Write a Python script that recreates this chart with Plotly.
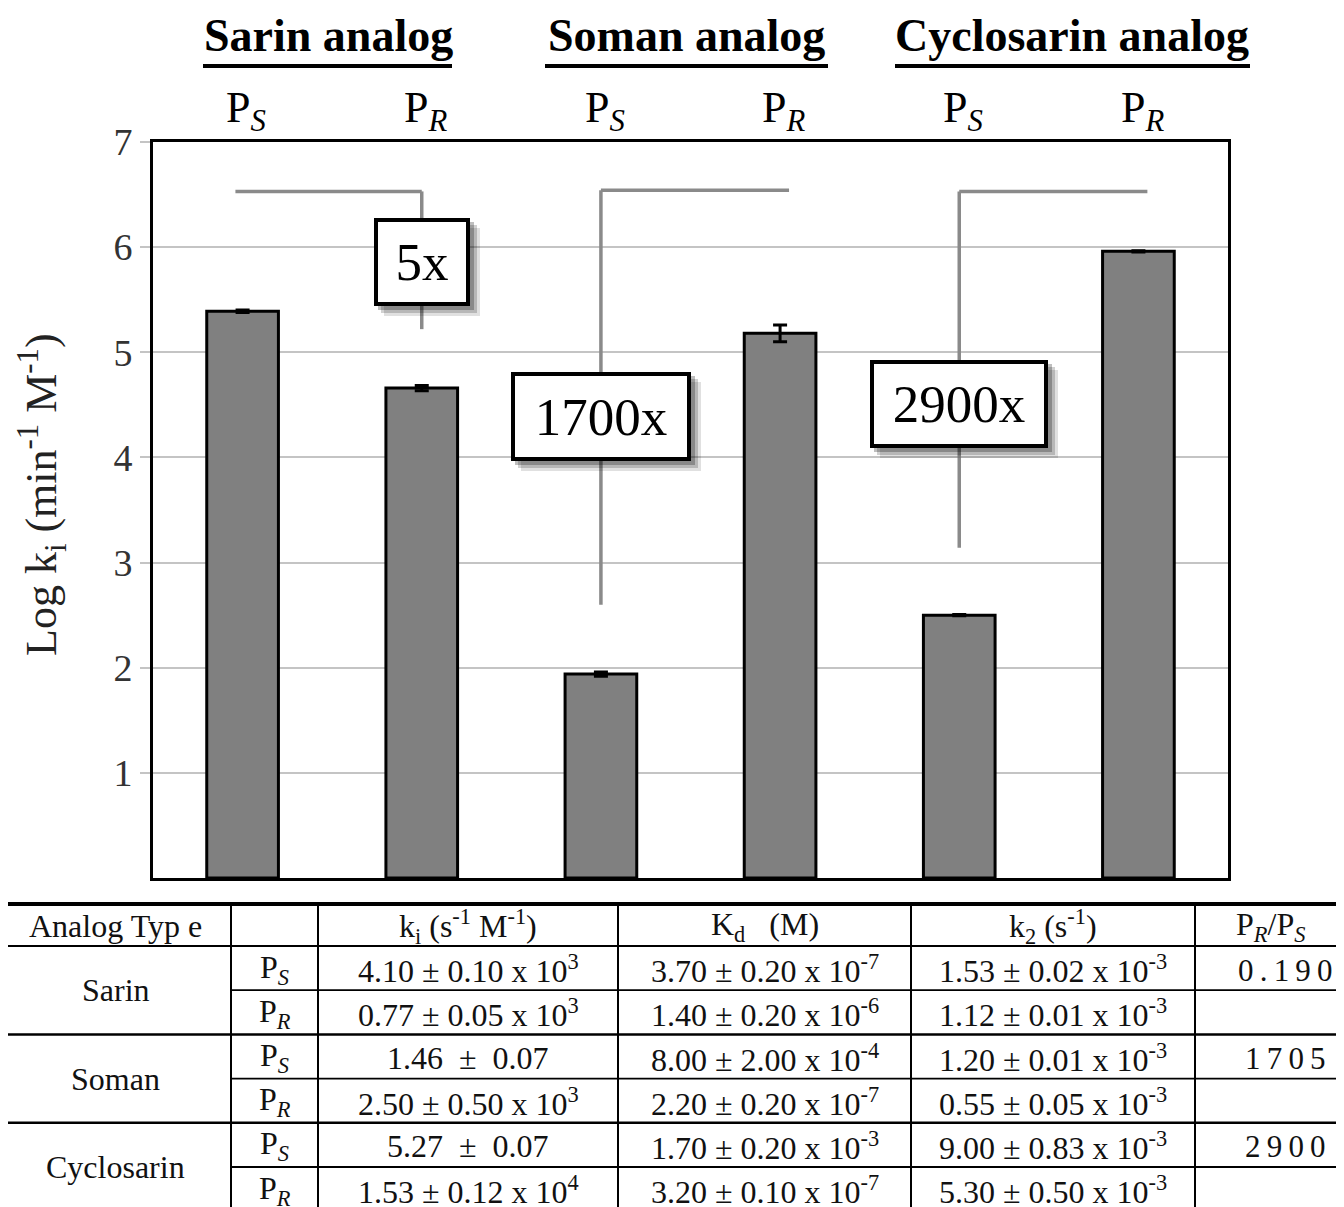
import plotly.graph_objects as go

# ---------------- data ----------------
bar_labels = ["Sarin P_S", "Sarin P_R", "Soman P_S", "Soman P_R", "Cyclosarin P_S", "Cyclosarin P_R"]
log_ki = [5.39, 4.66, 1.94, 5.18, 2.50, 5.96]
log_ki_err = [0.012, 0.025, 0.02, 0.08, 0.006, 0.006]
isomer_labels = ["P<sub><i>S</i></sub>", "P<sub><i>R</i></sub>"] * 3
analog_titles = ["Sarin analog", "Soman analog", "Cyclosarin analog"]
fold_labels = ["5x", "1700x", "2900x"]
fold_label_y = [5.86, 4.39, 4.51]
bracket_top = [6.53, 6.54, 6.53]
bracket_bottom = [5.22, 2.60, 3.14]
y_ticks = [1, 2, 3, 4, 5, 6, 7]

table_header = ["Analog Typ e", "", "k<sub>i</sub> (s<sup>-1</sup> M<sup>-1</sup>)",
                "K<sub>d</sub>\u00a0\u00a0 (M)", "k<sub>2</sub> (s<sup>-1</sup>)",
                "P<sub><i>R</i></sub>/P<sub><i>S</i></sub>"]
table_analogs = ["Sarin", "Soman", "Cyclosarin"]
table_isomers = ["P<sub><i>S</i></sub>", "P<sub><i>R</i></sub>"] * 3
ki_values = ["4.10 ± 0.10 x 10<sup>3</sup>", "0.77 ± 0.05 x 10<sup>3</sup>",
             "1.46 \u00a0±\u00a0 0.07", "2.50 ± 0.50 x 10<sup>3</sup>",
             "5.27 \u00a0±\u00a0 0.07", "1.53 ± 0.12 x 10<sup>4</sup>"]
kd_values = ["3.70 ± 0.20 x 10<sup>-7</sup>", "1.40 ± 0.20 x 10<sup>-6</sup>",
             "8.00 ± 2.00 x 10<sup>-4</sup>", "2.20 ± 0.20 x 10<sup>-7</sup>",
             "1.70 ± 0.20 x 10<sup>-3</sup>", "3.20 ± 0.10 x 10<sup>-7</sup>"]
k2_values = ["1.53 ± 0.02 x 10<sup>-3</sup>", "1.12 ± 0.01 x 10<sup>-3</sup>",
             "1.20 ± 0.01 x 10<sup>-3</sup>", "0.55 ± 0.05 x 10<sup>-3</sup>",
             "9.00 ± 0.83 x 10<sup>-3</sup>", "5.30 ± 0.50 x 10<sup>-3</sup>"]
ratio_values = ["0.190", "1705", "2900"]

# ---------------- layout geometry (screen pixels) ----------------
PL, PR, PT, PB = 153, 1228, 142, 878   # plot area in screen px
OFF = 8                                  # body margin of the html page
W, H = 1328, 1199
SERIF = "Liberation Serif, Times New Roman, serif"

def px(X):
    return (X - PL) / (PR - PL)

def py(Y):
    return (PB - Y) / (PB - PT)

xs = list(range(len(log_ki)))

fig = go.Figure()
fig.add_trace(go.Bar(
    x=xs, y=log_ki, width=0.4,
    marker=dict(color="#808080", line=dict(color="black", width=3)),
    error_y=dict(type="data", array=log_ki_err, visible=True,
                 color="black", thickness=3, width=7),
    hoverinfo="skip", showlegend=False,
))

shapes = []
annotations = []

# brackets and fold boxes
for g in range(3):
    a, b = 2 * g, 2 * g + 1
    drop = a if log_ki[a] < log_ki[b] else b
    other = b if drop == a else a
    ext = -0.04 if other < drop else 0.05
    shapes.append(dict(type="line", xref="x", yref="y", x0=drop, x1=other + ext,
                       y0=bracket_top[g], y1=bracket_top[g],
                       line=dict(color="#8a8a8a", width=3.5)))
    shapes.append(dict(type="line", xref="x", yref="y", x0=drop, x1=drop,
                       y0=bracket_top[g], y1=bracket_bottom[g],
                       line=dict(color="#8a8a8a", width=3.5)))

box_w = [96, 180, 178]
box_h = [88, 89, 88]
for g in range(3):
    a, b = 2 * g, 2 * g + 1
    drop = a if log_ki[a] < log_ki[b] else b
    for sh, alpha in [(10, 0.12), (7, 0.18), (4, 0.25)]:
        annotations.append(dict(
            x=drop, y=fold_label_y[g], xref="x", yref="y", text="\u00a0",
            showarrow=False, font=dict(family=SERIF, size=54, color="rgba(0,0,0,0)"),
            width=box_w[g], height=box_h[g], bgcolor=f"rgba(0,0,0,{alpha})",
            borderwidth=0, borderpad=0, xshift=sh, yshift=-sh))
for g in range(3):
    a, b = 2 * g, 2 * g + 1
    drop = a if log_ki[a] < log_ki[b] else b
    annotations.append(dict(
        x=drop, y=fold_label_y[g], xref="x", yref="y", text=fold_labels[g],
        showarrow=False, font=dict(family=SERIF, size=53, color="black"),
        width=box_w[g] - 8, height=box_h[g] - 8, bgcolor="white",
        bordercolor="black", borderwidth=4, borderpad=0))

# top headers
title_centers = [328, 686, 1072]
title_lines = [(203, 452), (545, 828), (895, 1250)]
for g in range(3):
    annotations.append(dict(
        x=px(title_centers[g]), y=py(36), xref="paper", yref="paper",
        text=f"<b>{analog_titles[g]}</b>", showarrow=False,
        xanchor="center", yanchor="middle",
        font=dict(family=SERIF, size=46, color="black")))
    shapes.append(dict(type="line", xref="paper", yref="paper",
                       x0=px(title_lines[g][0]), x1=px(title_lines[g][1]),
                       y0=py(66), y1=py(66), line=dict(color="black", width=4)))
for i, lab in enumerate(isomer_labels):
    annotations.append(dict(
        x=i + 0.02, y=py(111), xref="x", yref="paper", text=lab, showarrow=False,
        xanchor="center", yanchor="middle",
        font=dict(family=SERIF, size=44, color="black")))

# y-axis title
annotations.append(dict(
    x=px(42), y=py(495), xref="paper", yref="paper",
    text="Log k<sub>i</sub> (min<sup>-1</sup> M<sup>-1</sup>)", textangle=-90,
    showarrow=False, xanchor="center", yanchor="middle",
    font=dict(family=SERIF, size=44, color="#222")))

# ---------------- table ----------------
col_edges = [0, 231, 318, 618, 911, 1195, 1344]
col_centers = [(col_edges[i] + col_edges[i + 1]) / 2 for i in range(6)]
col_centers[5] = 1285
row_top = 904
header_bottom = 946
row_h = 44.2
TFONT = dict(family=SERIF, size=32, color="#111")

shapes.append(dict(type="line", xref="paper", yref="paper", x0=px(0), x1=px(1344),
                   y0=py(row_top), y1=py(row_top), line=dict(color="black", width=4)))
shapes.append(dict(type="line", xref="paper", yref="paper", x0=px(0), x1=px(1344),
                   y0=py(header_bottom), y1=py(header_bottom), line=dict(color="black", width=2)))
for r in range(1, 6):
    Y = header_bottom + r * row_h
    x0 = 0 if r % 2 == 0 else 231
    shapes.append(dict(type="line", xref="paper", yref="paper", x0=px(x0), x1=px(1344),
                       y0=py(Y), y1=py(Y),
                       line=dict(color="black", width=2.5 if r % 2 == 0 else 1.8)))
for X in col_edges[1:-1]:
    shapes.append(dict(type="line", xref="paper", yref="paper", x0=px(X), x1=px(X),
                       y0=py(row_top), y1=py(1215), line=dict(color="black", width=2)))

for c, txt in enumerate(table_header):
    annotations.append(dict(x=px(col_centers[c] if c < 5 else 1270), y=py(926),
                            xref="paper", yref="paper",
                            text=txt, showarrow=False, xanchor="center", yanchor="middle",
                            font=TFONT))
for g, name in enumerate(table_analogs):
    annotations.append(dict(x=px(col_centers[0]), y=py(header_bottom + (2 * g + 1) * row_h),
                            xref="paper", yref="paper", text=name, showarrow=False,
                            xanchor="center", yanchor="middle", font=TFONT))
    annotations.append(dict(x=px(col_centers[5]), y=py(header_bottom + 2 * g * row_h + row_h / 2 + 2),
                            xref="paper", yref="paper",
                            text="\u2009".join(ratio_values[g]), showarrow=False,
                            xanchor="center", yanchor="middle",
                            font=dict(family=SERIF, size=31, color="#111")))
for r in range(6):
    Yc = header_bottom + r * row_h + row_h / 2 + 1
    for c, vals in [(1, table_isomers), (2, ki_values), (3, kd_values), (4, k2_values)]:
        annotations.append(dict(x=px(col_centers[c]), y=py(Yc), xref="paper", yref="paper",
                                text=vals[r], showarrow=False, xanchor="center",
                                yanchor="middle", font=TFONT))

fig.update_layout(
    width=W, height=H, autosize=False,
    margin=dict(l=PL - OFF, r=W - (PR - OFF), t=PT - OFF, b=H - (PB - OFF), pad=0),
    plot_bgcolor="white", paper_bgcolor="white",
    xaxis=dict(range=[-0.5, 5.5], showticklabels=False, showgrid=False, zeroline=False,
               showline=True, mirror=True, linecolor="black", linewidth=3, ticks=""),
    yaxis=dict(range=[0, 7], tickvals=y_ticks, showgrid=True, gridcolor="#c4c4c4",
               gridwidth=1.5, zeroline=False, showline=True, mirror=True,
               linecolor="black", linewidth=3, ticks="outside", ticklen=10,
               tickcolor="#c4c4c4", tickwidth=1.5,
               tickfont=dict(family=SERIF, size=38, color="#333")),
    shapes=shapes, annotations=annotations,
)

fig.write_html("out.html")
